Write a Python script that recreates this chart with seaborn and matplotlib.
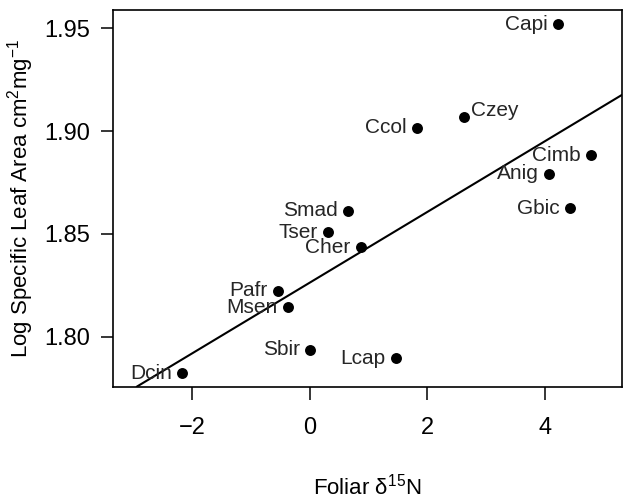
import matplotlib
matplotlib.use("Agg")
import matplotlib.pyplot as plt
import seaborn as sns
import pandas as pd

species = ["Capi", "Czey", "Ccol", "Cimb", "Anig", "Gbic", "Smad", "Tser",
           "Cher", "Pafr", "Msen", "Sbir", "Lcap", "Dcin"]
d15n = [4.22, 2.62, 1.83, 4.79, 4.07, 4.43, 0.65, 0.31, 0.87, -0.54, -0.37, 0.01, 1.46, -2.17]
log_sla = [1.952, 1.9067, 1.9017, 1.8883, 1.8792, 1.8625, 1.8612, 1.8507,
           1.8436, 1.8223, 1.8144, 1.7937, 1.7896, 1.7823]
fit_intercept = 1.8263
fit_slope = 0.0172
x_ticks = [-2, 0, 2, 4]
y_ticks = [1.80, 1.85, 1.90, 1.95]

df = pd.DataFrame({"species": species, "d15n": d15n, "sla": log_sla})

sns.set_theme(style="ticks")
plt.rcParams["font.family"] = ["Liberation Sans", "DejaVu Sans"]
plt.rcParams["mathtext.fontset"] = "custom"
plt.rcParams["mathtext.rm"] = "Liberation Sans"
plt.rcParams["mathtext.it"] = "Liberation Sans"
plt.rcParams["mathtext.default"] = "regular"

fig = plt.figure(figsize=(6.23, 5.0), dpi=100)
ax = fig.add_axes([0.1819, 0.2266, 0.8165, 0.7534])

sns.scatterplot(data=df, x="d15n", y="sla", ax=ax, s=62, color="black",
                edgecolor="black", linewidth=0, legend=False, zorder=3)
ax.axline((0, fit_intercept), slope=fit_slope, color="black", lw=1.5, zorder=2)

for sp, x, y in zip(species, d15n, log_sla):
    if sp == "Czey":
        ax.annotate(sp, (x, y), xytext=(5.3, 5), textcoords="offset points",
                    ha="left", va="center", fontsize=15)
    else:
        ax.annotate(sp, (x, y), xytext=(-7.5, 0), textcoords="offset points",
                    ha="right", va="center", fontsize=15)

ax.set_xlim(-3.34, 5.31)
ax.set_ylim(1.7757, 1.9589)
ax.set_xticks(x_ticks)
ax.set_xticklabels([f"{t:g}".replace("-", "\u2212") for t in x_ticks])
ax.set_yticks(y_ticks)
ax.set_yticklabels([f"{t:.2f}" for t in y_ticks])
ax.tick_params(axis="both", direction="out", length=9, width=1.1, color="black",
               labelsize=17, labelcolor="black")
ax.tick_params(axis="x", pad=13)
ax.tick_params(axis="y", pad=8)
for s in ax.spines.values():
    s.set_color("black")
    s.set_linewidth(1.2)

ax.set_xlabel("Foliar δ$^{15}$N", fontsize=16, labelpad=25, color="black")
ax.set_ylabel("Log Specific Leaf Area cm$^{2}$mg$^{-1}$", fontsize=16,
              labelpad=6, color="black")

fig.savefig("out.png", dpi=100)
